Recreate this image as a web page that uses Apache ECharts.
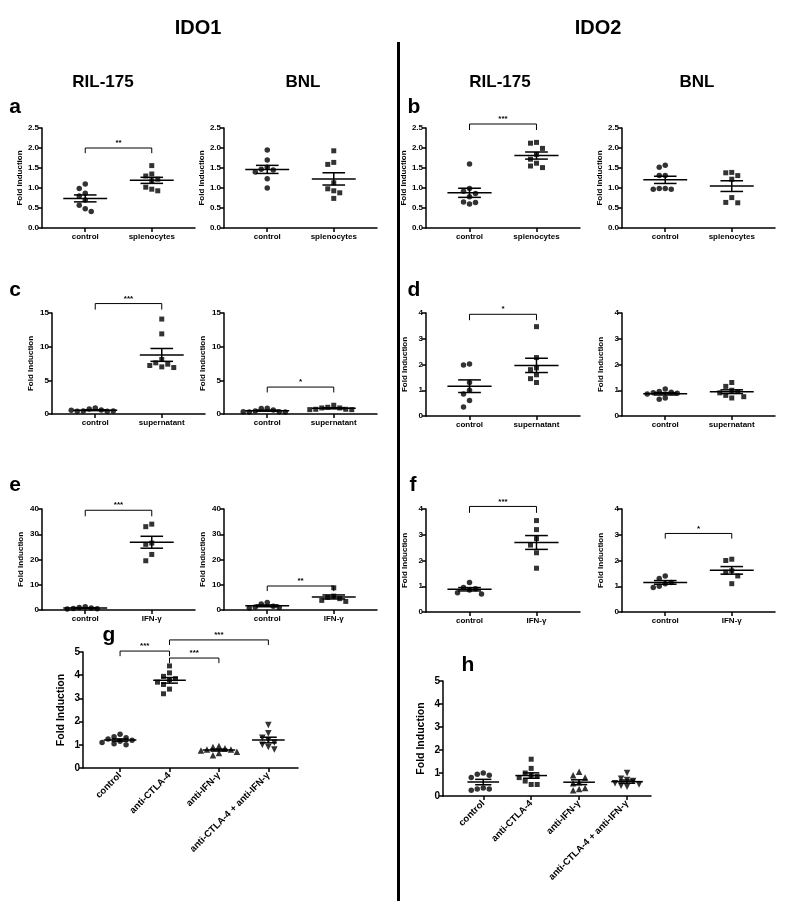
<!DOCTYPE html>
<html>
<head>
<meta charset="utf-8">
<script src="https://cdn.jsdelivr.net/npm/echarts@6/dist/echarts.min.js"></script>
<style>
html, body { margin: 0; padding: 0; background: #fff; }
#chart { width: 798px; height: 901px; }
</style>
</head>
<body>
<div id="chart"></div>
<script>
// group names
const catsSpleno = ['control', 'splenocytes'];
const catsSuper = ['control', 'supernatant'];
const catsIfn = ['control', 'IFN-γ'];
const catsBlock = ['control', 'anti-CTLA-4', 'anti-IFN-γ', 'anti-CTLA-4 + anti-IFN-γ'];

// a / b : co-culture with splenocytes
const ido1RilCtrlA = [1.10, 0.99, 0.87, 0.80, 0.70, 0.57, 0.48, 0.41];
const ido1RilSplA = [1.56, 1.35, 1.30, 1.22, 1.18, 1.02, 0.97, 0.93];
const ido1BnlCtrlA = [1.95, 1.70, 1.52, 1.47, 1.45, 1.40, 1.23, 1.00];
const ido1BnlSplA = [1.93, 1.64, 1.59, 1.13, 0.98, 0.93, 0.88, 0.74];
const ido2RilCtrlB = [1.60, 0.99, 0.92, 0.86, 0.78, 0.65, 0.64, 0.60];
const ido2RilSplB = [2.14, 2.12, 1.99, 1.84, 1.72, 1.62, 1.55, 1.51];
const ido2BnlCtrlB = [1.57, 1.52, 1.31, 1.31, 0.99, 0.99, 0.97, 0.97];
const ido2BnlSplB = [1.39, 1.38, 1.31, 1.22, 0.76, 0.64, 0.63];

// c / d : supernatant
const ido1RilCtrlC = [0.90, 0.75, 0.60, 0.45, 0.40, 0.40, 0.45, 0.55];
const ido1RilSupC = [14.1, 11.9, 8.1, 7.6, 7.4, 7.2, 7.0, 6.9];
const ido1BnlCtrlC = [0.85, 0.80, 0.60, 0.45, 0.35, 0.30, 0.30, 0.35];
const ido1BnlSupC = [1.30, 1.00, 0.90, 0.90, 0.70, 0.70, 0.65, 0.65];
const ido2RilCtrlD = [2.02, 1.98, 1.30, 1.00, 0.85, 0.60, 0.35];
const ido2RilSupD = [3.47, 2.27, 1.87, 1.80, 1.60, 1.45, 1.30];
const ido2BnlCtrlD = [1.05, 0.95, 0.92, 0.90, 0.88, 0.85, 0.70, 0.65];
const ido2BnlSupD = [1.30, 1.15, 1.00, 0.95, 0.90, 0.80, 0.75, 0.70];

// e / f : IFN-γ
const ido1RilCtrlE = [1.3, 1.0, 0.8, 0.6, 0.5, 0.4];
const ido1RilIfnE = [34.0, 33.0, 26.5, 26.0, 22.0, 19.5];
const ido1BnlCtrlE = [3.0, 2.4, 1.5, 1.2, 1.0, 0.8];
const ido1BnlIfnE = [8.8, 5.5, 5.0, 4.5, 3.8, 3.4];
const ido2RilCtrlF = [1.15, 0.95, 0.90, 0.85, 0.75, 0.70];
const ido2RilIfnF = [3.55, 3.20, 2.85, 2.60, 2.30, 1.70];
const ido2BnlCtrlF = [1.40, 1.30, 1.15, 1.10, 1.00, 0.95];
const ido2BnlIfnF = [2.05, 2.00, 1.60, 1.55, 1.40, 1.10];

// g / h : blocking antibodies
const ido1CtrlG = [1.45, 1.35, 1.30, 1.25, 1.20, 1.15, 1.10, 1.05, 1.00];
const ido1Ctla4G = [4.40, 4.10, 3.95, 3.85, 3.80, 3.70, 3.60, 3.40, 3.20];
const ido1IfnG = [0.95, 0.90, 0.85, 0.80, 0.80, 0.75, 0.70, 0.65, 0.55];
const ido1ComboG = [1.85, 1.50, 1.30, 1.20, 1.10, 1.00, 0.90, 0.80];
const ido2CtrlH = [1.00, 0.95, 0.90, 0.80, 0.35, 0.30, 0.30, 0.25];
const ido2Ctla4H = [1.60, 1.20, 1.00, 0.90, 0.85, 0.80, 0.65, 0.50, 0.50];
const ido2IfnH = [1.05, 0.90, 0.80, 0.60, 0.55, 0.35, 0.30, 0.25];
const ido2ComboH = [1.00, 0.75, 0.70, 0.65, 0.55, 0.50, 0.45, 0.40];

// significance brackets: [from group, to group, level, drop, label]
const bracketA = [1, 2, 2.0, 0.13, '**'];
const bracketB = [1, 2, 2.6, 0.15, '***'];
const bracketC = [1, 2, 16.4, 0.9, '***'];
const bracketCBnl = [1, 2, 4.0, 0.8, '*'];
const bracketD = [1, 2, 3.95, 0.23, '*'];
const bracketE = [1, 2, 39.5, 2.4, '***'];
const bracketEBnl = [1, 2, 9.5, 2.0, '**'];
const bracketF = [1, 2, 4.1, 0.25, '***'];
const bracketFBnl = [1, 2, 3.05, 0.2, '*'];
const bracketsG = [[1, 2, 5.04, 0.22, '***'], [2, 4, 5.52, 0.22, '***'], [2, 3, 4.74, 0.22, '***']];

const FONT = 'Liberation Sans, Arial, sans-serif';

// layout of every small plot
const panels = [
  { box: [42, 128, 153, 100], x: [0.35, 2.65], y: [0, 2.5, 0.5], dec: 1, cats: catsSpleno, groups: [ido1RilCtrlA, ido1RilSplA], br: [bracketA] },
  { box: [224, 128, 153, 100], x: [0.35, 2.65], y: [0, 2.5, 0.5], dec: 1, cats: catsSpleno, groups: [ido1BnlCtrlA, ido1BnlSplA], br: [] },
  { box: [426, 128, 154, 100], x: [0.35, 2.65], y: [0, 2.5, 0.5], dec: 1, cats: catsSpleno, groups: [ido2RilCtrlB, ido2RilSplB], br: [bracketB] },
  { box: [622, 128, 153, 100], x: [0.35, 2.65], y: [0, 2.5, 0.5], dec: 1, cats: catsSpleno, groups: [ido2BnlCtrlB, ido2BnlSplB], br: [] },
  { box: [52, 313, 153, 101], x: [0.35, 2.65], y: [0, 15, 5], dec: 0, cats: catsSuper, groups: [ido1RilCtrlC, ido1RilSupC], br: [bracketC] },
  { box: [224, 313, 153, 101], x: [0.35, 2.65], y: [0, 15, 5], dec: 0, cats: catsSuper, groups: [ido1BnlCtrlC, ido1BnlSupC], br: [bracketCBnl] },
  { box: [426, 313, 154, 103], x: [0.35, 2.65], y: [0, 4, 1], dec: 0, cats: catsSuper, groups: [ido2RilCtrlD, ido2RilSupD], br: [bracketD] },
  { box: [622, 313, 153, 103], x: [0.35, 2.65], y: [0, 4, 1], dec: 0, cats: catsSuper, groups: [ido2BnlCtrlD, ido2BnlSupD], br: [] },
  { box: [42, 509, 153, 101], x: [0.35, 2.65], y: [0, 40, 10], dec: 0, cats: catsIfn, groups: [ido1RilCtrlE, ido1RilIfnE], br: [bracketE] },
  { box: [224, 509, 153, 101], x: [0.35, 2.65], y: [0, 40, 10], dec: 0, cats: catsIfn, groups: [ido1BnlCtrlE, ido1BnlIfnE], br: [bracketEBnl] },
  { box: [426, 509, 154, 103], x: [0.35, 2.65], y: [0, 4, 1], dec: 0, cats: catsIfn, groups: [ido2RilCtrlF, ido2RilIfnF], br: [bracketF] },
  { box: [622, 509, 153, 103], x: [0.35, 2.65], y: [0, 4, 1], dec: 0, cats: catsIfn, groups: [ido2BnlCtrlF, ido2BnlIfnF], br: [bracketFBnl] },
  { box: [83, 652, 215, 116], x: [0.25, 4.6], y: [0, 5, 1], dec: 0, cats: catsBlock, groups: [ido1CtrlG, ido1Ctla4G, ido1IfnG, ido1ComboG], br: bracketsG, big: true },
  { box: [443, 681, 208, 115], x: [0.16, 4.5], y: [0, 5, 1], dec: 0, cats: catsBlock, groups: [ido2CtrlH, ido2Ctla4H, ido2IfnH, ido2ComboH], br: [], big: true }
];

const shapes = ['circle', 'rect', 'triangle', 'triangle'];
const shapeSize = [5.5, 5, 6.5, 6.5];
const shapeRot = [0, 0, 0, 180];

// place points of one group side by side where they would overlap
function swarm(values, center, pxX, pxY) {
  const step = 6;
  const placed = [];
  return values.map(v => {
    const yPx = v * pxY;
    for (let k = 0; k < 40; k++) {
      const n = Math.ceil(k / 2);
      const off = (k % 2 === 1 ? -n : n) * step;
      const free = placed.every(p => Math.abs(p.x - off) >= step - 0.1 || Math.abs(p.y - yPx) >= 6.5);
      if (free) {
        placed.push({ x: off, y: yPx });
        return [center + off / pxX, v];
      }
    }
    return [center, v];
  });
}

function meanSem(vals) {
  const n = vals.length;
  const m = vals.reduce((s, v) => s + v, 0) / n;
  const sd = Math.sqrt(vals.reduce((s, v) => s + (v - m) * (v - m), 0) / (n - 1));
  return [m, sd / Math.sqrt(n)];
}

const lineStyle = { stroke: '#000', lineWidth: 1.5 };
const grids = [], xAxes = [], yAxes = [], series = [];

panels.forEach((p, i) => {
  const fs = p.big ? 10 : 8;
  grids.push({ left: p.box[0], top: p.box[1], width: p.box[2], height: p.box[3], containLabel: false, outerBoundsMode: 'none' });
  const ticks = p.cats.map((c, j) => j + 1);
  xAxes.push({
    type: 'value', gridIndex: i, min: p.x[0], max: p.x[1],
    splitLine: { show: false },
    axisLine: { show: true, onZero: false, lineStyle: { color: '#000', width: 1.5 } },
    axisTick: { show: true, customValues: ticks, length: 4, lineStyle: { color: '#000', width: 1.5 } },
    axisLabel: {
      customValues: ticks, formatter: v => p.cats[Math.round(v) - 1] || '',
      color: '#000', fontFamily: FONT, fontWeight: 'bold', fontSize: p.big ? 9.5 : 8,
      rotate: p.big ? 45 : 0, margin: p.big ? 6 : 5
    }
  });
  yAxes.push({
    type: 'value', gridIndex: i, min: p.y[0], max: p.y[1], interval: p.y[2],
    splitLine: { show: false },
    axisLine: { show: true, onZero: false, lineStyle: { color: '#000', width: 1.5 } },
    axisTick: { show: true, length: 4, lineStyle: { color: '#000', width: 1.5 } },
    axisLabel: { color: '#000', fontFamily: FONT, fontWeight: 'bold', fontSize: fs, margin: 3, formatter: v => v.toFixed(p.dec) },
    name: 'Fold Induction', nameLocation: 'middle', nameRotate: 90, nameGap: p.big ? 16 : 17,
    nameTextStyle: { color: '#000', fontFamily: FONT, fontWeight: 'bold', fontSize: p.big ? 10.5 : 8 }
  });

  const pxX = p.box[2] / (p.x[1] - p.x[0]);
  const pxY = p.box[3] / (p.y[1] - p.y[0]);
  p.groups.forEach((vals, j) => {
    series.push({
      type: 'scatter', xAxisIndex: i, yAxisIndex: i, silent: true, z: 3,
      symbol: shapes[j], symbolSize: shapeSize[j], symbolRotate: shapeRot[j],
      itemStyle: { color: '#000' },
      data: swarm(vals, j + 1, pxX, pxY)
    });
  });

  series.push({
    type: 'custom', xAxisIndex: i, yAxisIndex: i, silent: true, z: 4,
    data: p.groups.map((vals, j) => [j + 1].concat(meanSem(vals))),
    renderItem(params, api) {
      const x = api.value(0), m = api.value(1), s = api.value(2);
      const L = api.coord([x - 0.33, m]), R = api.coord([x + 0.33, m]);
      const T = api.coord([x, m + s]), B = api.coord([x, m - s]);
      const w = api.coord([x + 0.17, m])[0] - api.coord([x, m])[0];
      return {
        type: 'group', children: [
          { type: 'line', shape: { x1: L[0], y1: L[1], x2: R[0], y2: R[1] }, style: lineStyle },
          { type: 'line', shape: { x1: T[0], y1: T[1], x2: B[0], y2: B[1] }, style: lineStyle },
          { type: 'line', shape: { x1: T[0] - w, y1: T[1], x2: T[0] + w, y2: T[1] }, style: lineStyle },
          { type: 'line', shape: { x1: B[0] - w, y1: B[1], x2: B[0] + w, y2: B[1] }, style: lineStyle }
        ]
      };
    }
  });

  if (p.br.length) {
    series.push({
      type: 'custom', xAxisIndex: i, yAxisIndex: i, silent: true, z: 4, clip: false,
      data: p.br.map(b => [b[0], b[1], b[2], b[3]]),
      renderItem(params, api) {
        const a = api.value(0), b = api.value(1), lv = api.value(2), d = api.value(3);
        const p1 = api.coord([a, lv - d]), p2 = api.coord([a, lv]);
        const p3 = api.coord([b, lv]), p4 = api.coord([b, lv - d]);
        return {
          type: 'group', children: [
            { type: 'polyline', shape: { points: [p1, p2, p3, p4] }, style: { stroke: '#000', lineWidth: 1, fill: null } },
            { type: 'text', style: { text: p.br[params.dataIndex][4], x: (p2[0] + p3[0]) / 2, y: p2[1] - 1,
              align: 'center', verticalAlign: 'bottom', textAlign: 'center', textVerticalAlign: 'bottom',
              font: 'bold 8px ' + FONT, fill: '#000' } }
          ]
        };
      }
    });
  }
});

function label(x, y, text, size) {
  return { type: 'text', x: x, y: y, silent: true,
    style: { text: text, font: 'bold ' + size + 'px ' + FONT, fill: '#000',
      align: 'center', verticalAlign: 'middle', textAlign: 'center', textVerticalAlign: 'middle' } };
}

const graphics = [
  label(198, 28, 'IDO1', 20), label(598, 28, 'IDO2', 20),
  label(103, 82, 'RIL-175', 17), label(303, 82, 'BNL', 17),
  label(500, 82, 'RIL-175', 17), label(697, 82, 'BNL', 17),
  label(15, 107, 'a', 21), label(414, 107, 'b', 21),
  label(15, 290, 'c', 21), label(414, 290, 'd', 21),
  label(15, 485, 'e', 21), label(413, 485, 'f', 21),
  label(109, 635, 'g', 21), label(468, 665, 'h', 21),
  { type: 'rect', shape: { x: 397, y: 42, width: 3, height: 859 }, style: { fill: '#000' }, silent: true }
];

const chart = echarts.init(document.getElementById('chart'), null, { renderer: 'canvas' });
chart.setOption({
  animation: false,
  backgroundColor: '#fff',
  grid: grids,
  xAxis: xAxes,
  yAxis: yAxes,
  series: series,
  graphic: { elements: graphics }
});
</script>
</body>
</html>
